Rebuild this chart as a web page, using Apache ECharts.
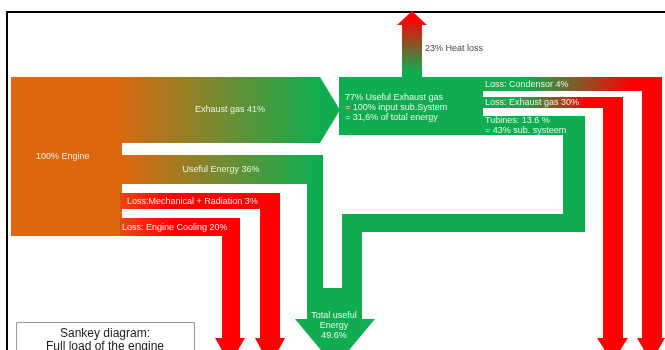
<!DOCTYPE html>
<html>
<head>
<meta charset="utf-8">
<script src="https://cdn.jsdelivr.net/npm/echarts@6/dist/echarts.min.js"></script>
<style>
  html, body { margin: 0; padding: 0; background: #fff; }
  #chart { width: 665px; height: 350px; }
</style>
</head>
<body>
<div id="chart"></div>
<script>
// flows of the engine at full load (percent)
const flowNames = ['Engine', 'Exhaust gas', 'Useful Energy', 'Loss: Mechanical + Radiation', 'Loss: Engine Cooling',
  'Useful Exhaust gas', 'Heat loss', 'Loss: Condensor', 'Loss: Exhaust gas', 'Turbines', 'Total useful Energy'];
const flowValues = [100, 41, 36, 3, 20, 77, 23, 4, 30, 13.6, 49.6];
const flowLabels = [
  '100% Engine',
  'Exhaust gas 41%',
  'Useful Energy 36%',
  'Loss:Mechanical + Radiation 3%',
  'Loss: Engine Cooling 20%',
  '77% Useful Exhaust gas\n= 100% input sub.System\n= 31,6% of total energy',
  '23% Heat loss',
  'Loss: Condensor 4%',
  'Loss: Exhaust gas 30%',
  'Tubines: 13.6 %\n= 43% sub. systeem',
  'Total useful\nEnergy\n49.6%'
];
const titleLines = ['Sankey diagram:', 'Full load of the engine'];

const ORANGE = '#dd670f';
const GREEN = '#0fad4f';
const RED = '#fe0000';

// drawing layout (axis units, y pointing down), one or more pieces per flow
const pieces = [
  { flow: 0, pts: [[11, 77], [122, 77], [122, 236], [11, 236]], fill: ORANGE },
  { flow: 1, pts: [[120, 77], [320, 77], [340, 110], [320, 143], [120, 143]], grad: [115, 320, ORANGE, GREEN] },
  { flow: 2, pts: [[120, 155], [323, 155], [323, 184], [120, 184]], grad: [125, 312, ORANGE, GREEN] },
  { flow: 2, pts: [[307, 183], [323, 183], [323, 319], [307, 319]], fill: GREEN },
  { flow: 3, pts: [[120, 193], [280, 193], [280, 338], [285, 338], [270, 366], [255, 338], [260, 338], [260, 209], [120, 209]], grad: [118, 175, '#e94a14', RED] },
  { flow: 4, pts: [[120, 218], [240, 218], [240, 338], [245, 338], [230, 364], [215, 338], [222, 338], [222, 236], [120, 236]], grad: [118, 175, '#e94a14', RED] },
  { flow: 5, pts: [[339, 77], [483, 77], [483, 135], [339, 135]], fill: GREEN },
  { flow: 6, pts: [[402, 78], [402, 25], [397, 25], [412, 11], [427, 25], [422, 25], [422, 78]], vgrad: [18, 72, RED, GREEN] },
  { flow: 7, pts: [[480, 77], [662, 77], [662, 338], [665, 338], [651, 362], [637, 338], [642, 338], [642, 91], [480, 91]], grad: [525, 632, GREEN, RED] },
  { flow: 8, pts: [[480, 97], [623, 97], [623, 338], [628, 338], [612.5, 362], [597, 338], [603, 338], [603, 108], [480, 108]], grad: [520, 588, GREEN, RED] },
  { flow: 9, pts: [[480, 116], [585, 116], [585, 232], [362, 232], [362, 319], [342, 319], [342, 214], [563, 214], [563, 135], [480, 135]], fill: GREEN },
  { flow: 10, pts: [[307, 288], [362, 288], [362, 319], [375, 319], [335, 367], [295, 319], [307, 319]], fill: GREEN }
];

// label anchors (axis units): x, centre of first line, alignment, colour
const labelPos = [
  [36, 157, 'left', '#f6efe4'],
  [230, 110, 'center', '#eef0e2'],
  [221, 170, 'center', '#eef0e2'],
  [127, 202, 'left', '#fbe9e4'],
  [122, 228, 'left', '#fbe9e4'],
  [345, 98, 'left', '#eaf6ee'],
  [425, 49, 'left', '#444444'],
  [485, 84.5, 'left', '#eef2e4'],
  [485, 102.5, 'left', '#eef2e4'],
  [485, 121, 'left', '#eaf6ee'],
  [334, 316, 'center', '#eaf6ee']
];

const LINE_H = 10;

const chart = echarts.init(document.getElementById('chart'));

function fillFor(p, api) {
  if (p.grad) {
    const a = api.coord([p.grad[0], 0]);
    const b = api.coord([p.grad[1], 0]);
    return { type: 'linear', x: a[0], y: 0, x2: b[0], y2: 0, global: true,
      colorStops: [{ offset: 0, color: p.grad[2] }, { offset: 1, color: p.grad[3] }] };
  }
  if (p.vgrad) {
    const a = api.coord([0, p.vgrad[0]]);
    const b = api.coord([0, p.vgrad[1]]);
    return { type: 'linear', x: 0, y: a[1], x2: 0, y2: b[1], global: true,
      colorStops: [{ offset: 0, color: p.vgrad[2] }, { offset: 1, color: p.vgrad[3] }] };
  }
  return p.fill;
}

const option = {
  animation: false,
  grid: { left: 0, right: 0, top: 0, bottom: 0 },
  xAxis: { type: 'value', min: 0, max: 665, show: false },
  yAxis: { type: 'value', min: 0, max: 350, inverse: true, show: false },
  graphic: [
    { type: 'line', z: 0, shape: { x1: 6, y1: 12, x2: 665, y2: 12 }, style: { stroke: '#000', lineWidth: 2 } },
    { type: 'line', z: 0, shape: { x1: 7, y1: 11, x2: 7, y2: 350 }, style: { stroke: '#000', lineWidth: 2 } },
    { type: 'rect', z: 5, shape: { x: 16.5, y: 322.5, width: 178, height: 40 }, style: { fill: '#fff', stroke: '#9a9a9a', lineWidth: 1 } },
    { type: 'text', z: 6, x: 105, y: 327, style: { text: titleLines.join('\n'), fill: '#222', font: '12px "Liberation Sans", Arial, sans-serif', align: 'center', verticalAlign: 'top', lineHeight: 13 } }
  ],
  series: [
    {
      type: 'custom',
      name: 'flows',
      coordinateSystem: 'cartesian2d',
      clip: false,
      silent: true,
      z: 2,
      data: pieces.map(p => [p.pts[0][0], p.pts[0][1], flowValues[p.flow]]),
      renderItem: function (params, api) {
        const p = pieces[params.dataIndex];
        return {
          type: 'polygon',
          shape: { points: p.pts.map(pt => api.coord(pt)) },
          style: { fill: fillFor(p, api) }
        };
      }
    },
    {
      type: 'custom',
      name: 'labels',
      coordinateSystem: 'cartesian2d',
      clip: false,
      silent: true,
      z: 3,
      data: labelPos.map((l, i) => [l[0], l[1], flowValues[i]]),
      renderItem: function (params, api) {
        const l = labelPos[params.dataIndex];
        const c = api.coord([l[0], l[1]]);
        return {
          type: 'text',
          x: c[0],
          y: c[1] - LINE_H / 2,
          style: {
            text: flowLabels[params.dataIndex],
            fill: l[3],
            font: '9px "Liberation Sans", Arial, sans-serif',
            align: l[2],
            verticalAlign: 'top',
            lineHeight: LINE_H
          }
        };
      }
    }
  ]
};

chart.setOption(option);
</script>
</body>
</html>
